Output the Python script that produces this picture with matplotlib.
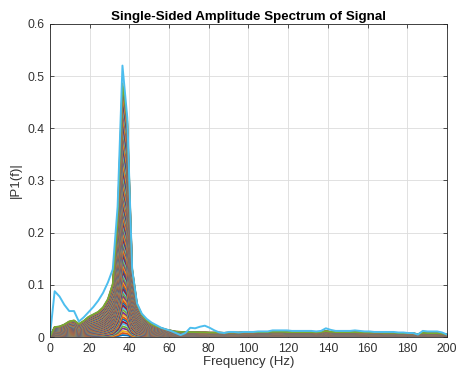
import numpy as np
import matplotlib
matplotlib.use('Agg')
import matplotlib.pyplot as plt

# ============================================================
# DATA (doc tu hinh)
# ============================================================
freq_hz = np.arange(83) * 200 / 82          # luoi tan so cua FFT

# duong tren cung (mau cyan, ve sau cung)
top_curve = [
    0.000, 0.088, 0.078, 0.062, 0.050, 0.050, 0.030, 0.038, 0.048, 0.058,
    0.070, 0.085, 0.105, 0.130, 0.250, 0.520, 0.420, 0.130, 0.065, 0.045,
    0.035, 0.028, 0.023, 0.018, 0.015, 0.012, 0.008, 0.004, 0.008, 0.018,
    0.017, 0.020, 0.022, 0.018, 0.013, 0.009, 0.008, 0.010, 0.010, 0.009,
    0.010, 0.010, 0.010, 0.011, 0.011, 0.011, 0.013, 0.013, 0.013, 0.013,
    0.012, 0.012, 0.012, 0.012, 0.012, 0.011, 0.012, 0.017, 0.014, 0.012,
    0.012, 0.012, 0.012, 0.013, 0.012, 0.011, 0.011, 0.010, 0.010, 0.010,
    0.010, 0.010, 0.009, 0.009, 0.008, 0.008, 0.005, 0.012, 0.011, 0.011,
    0.011, 0.009, 0.005,
]

# hinh dang chuan hoa (dinh = 1) cua cac duong con lai
base_shape = [
    0.000, 0.040, 0.042, 0.050, 0.062, 0.066, 0.052, 0.064, 0.080, 0.090,
    0.100, 0.118, 0.150, 0.210, 0.460, 1.000, 0.850, 0.270, 0.130, 0.088,
    0.066, 0.050, 0.042, 0.036, 0.030, 0.026, 0.022, 0.021, 0.020, 0.020,
    0.020, 0.019, 0.019, 0.018, 0.018, 0.018, 0.017, 0.018, 0.018, 0.018,
    0.019, 0.019, 0.019, 0.020, 0.020, 0.020, 0.021, 0.021, 0.021, 0.020,
    0.020, 0.020, 0.020, 0.020, 0.020, 0.019, 0.020, 0.024, 0.021, 0.020,
    0.020, 0.020, 0.020, 0.020, 0.019, 0.019, 0.018, 0.018, 0.018, 0.017,
    0.017, 0.017, 0.016, 0.016, 0.015, 0.015, 0.012, 0.017, 0.016, 0.016,
    0.016, 0.014, 0.010,
]

# bien do dinh cua tung duong (tang dan)
peak_values = [
    0.004, 0.008, 0.012, 0.017, 0.021, 0.026, 0.030, 0.035, 0.039, 0.044,
    0.048, 0.053, 0.058, 0.062, 0.067, 0.071, 0.076, 0.080, 0.085, 0.090,
    0.094, 0.099, 0.103, 0.108, 0.112, 0.117, 0.122, 0.126, 0.131, 0.135,
    0.140, 0.144, 0.149, 0.154, 0.158, 0.163, 0.167, 0.172, 0.176, 0.181,
    0.186, 0.190, 0.195, 0.199, 0.204, 0.208, 0.213, 0.218, 0.222, 0.227,
    0.231, 0.236, 0.240, 0.245, 0.250, 0.254, 0.259, 0.263, 0.268, 0.272,
    0.277, 0.282, 0.286, 0.291, 0.295, 0.300, 0.305, 0.310, 0.316, 0.322,
    0.328, 0.334, 0.340, 0.347, 0.353, 0.359, 0.366, 0.372, 0.379, 0.385,
    0.392, 0.398, 0.405, 0.411, 0.418, 0.424, 0.431, 0.437, 0.444, 0.450,
    0.456, 0.462, 0.468, 0.474, 0.480, 0.486,
]

x_ticks = [0, 20, 40, 60, 80, 100, 120, 140, 160, 180, 200]
y_ticks = [0, 0.1, 0.2, 0.3, 0.4, 0.5, 0.6]
y_tick_labels = ['0', '0.1', '0.2', '0.3', '0.4', '0.5', '0.6']

# bang mau mac dinh cua MATLAB
matlab_colors = ['#0072BD', '#D95319', '#EDB120', '#7E2F8E',
                 '#77AC30', '#4DBEEE', '#A2142F']

# ============================================================
# VE
# ============================================================
plt.rcParams['font.family'] = ['Liberation Sans', 'DejaVu Sans']

fig = plt.figure(figsize=(4.57, 3.78), dpi=100)
ax = fig.add_axes([0.109, 0.108, 0.869, 0.829])

shape = np.array(base_shape)
for i, pk in enumerate(peak_values):
    ax.plot(freq_hz, pk * shape, color=matlab_colors[i % 7], linewidth=1.3)
ax.plot(freq_hz, top_curve, color=matlab_colors[len(peak_values) % 7],
        linewidth=1.4)

ax.set_xlim(0, 200)
ax.set_ylim(0, 0.6)
ax.set_xticks(x_ticks)
ax.set_yticks(y_ticks)
ax.set_yticklabels(y_tick_labels)
ax.grid(True, color='#dcdcdc', linewidth=0.6)
ax.set_axisbelow(True)
ax.tick_params(direction='in', top=True, right=True, length=3,
               labelsize=8.7, colors='#333333', width=0.6, pad=4)
for sp in ax.spines.values():
    sp.set_color('#262626')
    sp.set_linewidth(0.6)

ax.set_xlabel('Frequency (Hz)', fontsize=9.5, color='#333333', labelpad=1)
ax.set_ylabel('|P1(f)|', fontsize=9.5, color='#333333', labelpad=4)
ax.set_title('Single-Sided Amplitude Spectrum of Signal', fontsize=9.6,
             fontweight='bold', pad=3)

fig.savefig('out.png', dpi=100)
